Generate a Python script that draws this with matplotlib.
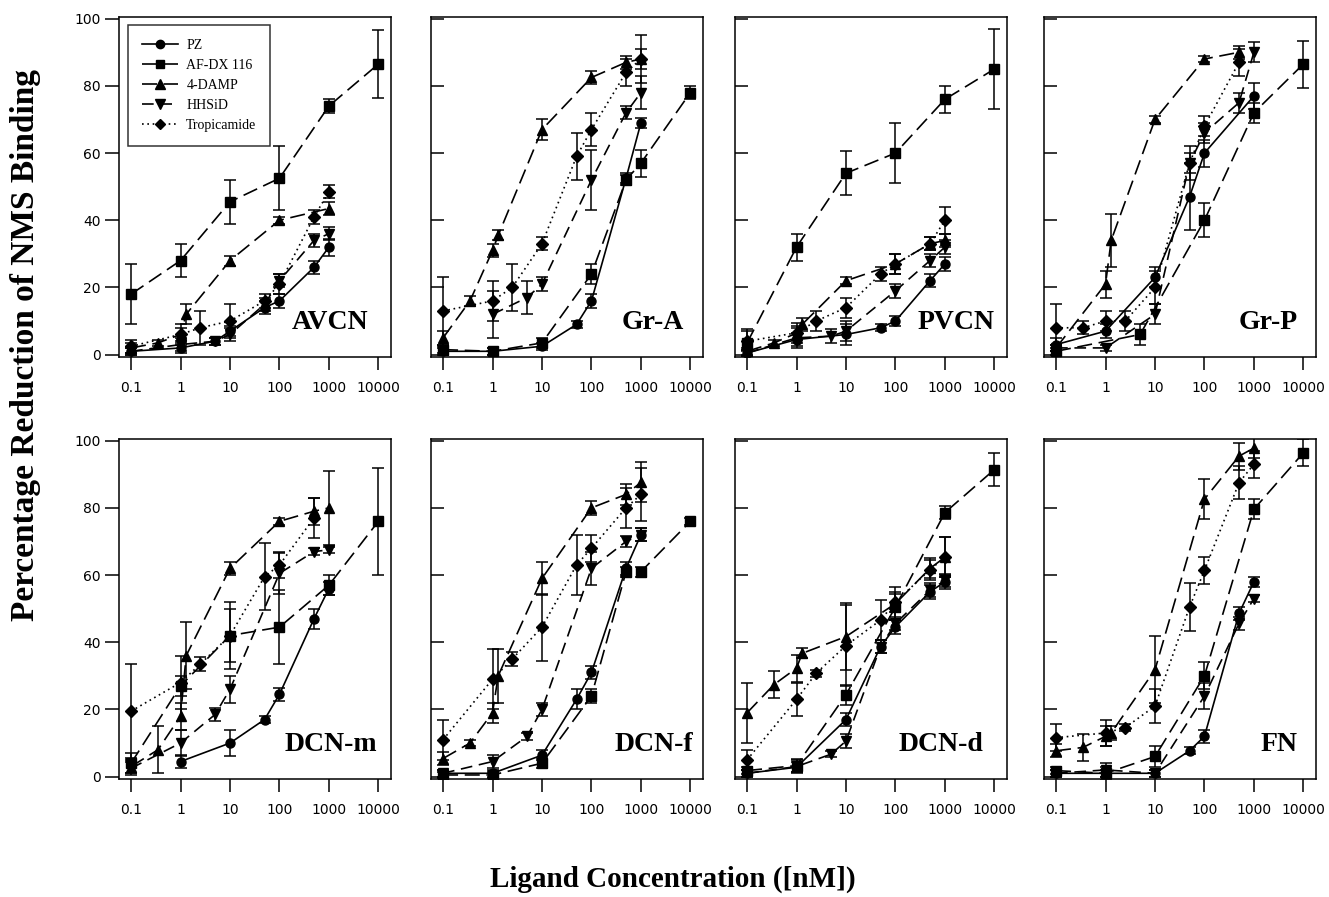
import matplotlib
matplotlib.use("Agg")
import matplotlib.pyplot as plt
from matplotlib.lines import Line2D
from matplotlib.ticker import FixedLocator, NullLocator, FixedFormatter

# ---------------- data (x = nM, y = % reduction, e = error) ----------------
panels = ["AVCN", "Gr-A", "PVCN", "Gr-P", "DCN-m", "DCN-f", "DCN-d", "FN"]
series_names = ["PZ", "AF-DX 116", "4-DAMP", "HHSiD", "Tropicamide"]
tick_vals = [0.1, 1, 10, 100, 1000, 10000]
tick_labels = ["0.1", "1", "10", "100", "1000", "10000"]
ytick_vals = [0, 20, 40, 60, 80, 100]

# AVCN
AVCN_PZ = ([0.1, 1, 5, 10, 50, 100, 500, 1000], [1, 2, 4, 7, 14, 16, 26, 32], [1, 1.5, 1, 1.5, 2, 2, 2, 2.5])
AVCN_AFDX = ([0.1, 1, 10, 100, 1000, 10000], [18, 28, 45.5, 52.5, 74, 86.5], [9, 5, 6.5, 9.5, 2, 10])
AVCN_DAMP = ([0.1, 0.35, 1, 1.3, 10, 100, 1000], [2, 3.5, 6, 12, 28, 40, 43.5], [1.5, 1, 2, 3, 1.5, 1, 2])
AVCN_HHSID = ([0.1, 1, 5, 10, 50, 100, 500, 1000], [1, 3, 4, 6, 15, 22, 34, 36], [1, 2, 1, 2, 2, 2, 2, 2])
AVCN_TROP = ([0.1, 1, 2.5, 10, 50, 100, 500, 1000], [2.5, 6, 8, 10, 16, 21, 41, 48.5], [2, 3, 5, 5, 2, 3, 2, 2])

# Gr-A
GRA_PZ = ([0.1, 1, 10, 50, 100, 500, 1000], [1, 1, 2.5, 9, 16, 52.5, 69], [1, 1, 1, 1, 2, 1.5, 1.5])
GRA_AFDX = ([0.1, 1, 10, 100, 500, 1000, 10000], [1.5, 1, 3.5, 24, 52, 57, 78], [1, 1, 1.5, 3, 1.5, 4, 2])
GRA_DAMP = ([0.1, 0.35, 1, 1.3, 10, 100, 500, 1000], [5, 16, 31, 35.5, 67, 82.5, 87, 88], [2, 1.5, 2, 1.5, 3, 2, 2, 3])
GRA_HHSID = ([1, 5, 10, 100, 500, 1000], [12, 17, 21, 52, 72, 78], [7, 5, 2, 9, 2, 5])
GRA_TROP = ([0.1, 1, 2.5, 10, 50, 100, 500, 1000], [13, 16, 20, 33, 59, 67, 84, 88], [10, 6, 7, 2, 7, 5, 4, 7])

# PVCN
PVCN_PZ = ([0.1, 1, 10, 50, 100, 500, 1000], [0.5, 4.5, 6, 8, 10, 22, 27], [1, 2, 3, 1, 1.5, 2, 2])
PVCN_AFDX = ([0.1, 1, 10, 100, 1000, 10000], [3.5, 32, 54, 60, 76, 85], [4, 4, 6.5, 9, 4, 12])
PVCN_DAMP = ([0.1, 0.35, 1, 1.3, 10, 100, 500, 1000], [1, 3.5, 6.4, 9, 22, 27, 33, 34], [1, 1, 2, 2, 1, 3, 2, 2])
PVCN_HHSID = ([0.1, 1, 5, 10, 100, 500, 1000], [0.5, 5, 5.5, 7, 19, 28, 32], [1, 3, 2, 3, 2, 2, 2])
PVCN_TROP = ([0.1, 1, 2.5, 10, 50, 100, 500, 1000], [4, 6.5, 10, 14, 24, 27, 33, 40], [3, 3, 3, 3, 2, 3, 2, 4])

# Gr-P
GRP_PZ = ([0.1, 1, 10, 50, 100, 1000], [3, 7, 23, 47, 60, 77], [2, 2, 3, 10, 4, 4])
GRP_AFDX = ([0.1, 5, 100, 1000, 10000], [1, 6, 40, 72, 86.5], [1, 3, 5, 3, 7])
GRP_DAMP = ([0.1, 1, 1.3, 10, 100, 500], [2, 21, 34, 70, 88, 90], [1, 4, 8, 1, 1, 2])
GRP_HHSID = ([0.1, 1, 10, 50, 100, 500, 1000], [2, 2, 12, 57, 66, 75, 90], [1, 1, 3, 5, 3, 3, 3])
GRP_TROP = ([0.1, 0.35, 1, 2.5, 10, 50, 100, 500], [8, 8, 10, 10, 20, 57, 68, 87], [7, 2, 3, 3, 5, 3, 3, 4])

# DCN-m
DCNM_PZ = ([1, 10, 50, 100, 500, 1000], [4.5, 10, 17, 24.5, 47, 56], [2, 4, 1, 2, 3, 2])
DCNM_AFDX = ([0.1, 1, 10, 100, 1000, 10000], [4, 27, 42, 44.5, 57, 76], [3, 3, 10, 11, 3, 16])
DCNM_DAMP = ([0.1, 0.35, 1, 1.3, 10, 100, 500, 1000], [3, 8, 18, 36, 62, 76, 79, 80], [2, 7, 4, 10, 2, 1, 4, 11])
DCNM_HHSID = ([0.1, 1, 5, 10, 100, 500, 1000], [2.5, 10, 18.5, 26, 60.5, 67, 67.5], [2, 4, 2, 4, 6, 1, 1])
DCNM_TROP = ([0.1, 1, 2.5, 10, 50, 100, 500], [19.5, 28, 33.5, 42, 59.5, 63, 77], [14, 8, 2, 8, 10, 4, 6])

# DCN-f
DCNF_PZ = ([0.1, 1, 10, 50, 100, 500, 1000], [1, 1, 6.4, 23, 31, 62, 72], [1, 1, 1.5, 3, 2, 2, 2])
DCNF_AFDX = ([0.1, 1, 10, 100, 500, 1000, 10000], [0.5, 0.5, 4, 24, 61, 61, 76], [1, 1, 1.5, 2, 1.5, 1.5, 1])
DCNF_DAMP = ([0.1, 0.35, 1, 1.3, 10, 100, 500, 1000], [5.4, 10, 19, 30, 59, 80, 84, 87.6], [2, 1, 3, 8, 5, 2, 3, 6])
DCNF_HHSID = ([0.1, 1, 5, 10, 100, 500, 1000], [1, 4.5, 12, 20, 62, 70, 72], [1, 2, 1, 2, 5, 1.5, 2])
DCNF_TROP = ([0.1, 1, 2.5, 10, 50, 100, 500, 1000], [11, 29, 35, 44.5, 63, 68, 80, 84], [6, 9, 2, 10, 9, 4, 6, 8])

# DCN-d
DCND_PZ = ([0.1, 1, 10, 50, 100, 500, 1000], [1, 2.8, 17, 38.7, 44.6, 55, 58], [1, 1.5, 2, 2, 2, 2, 2])
DCND_AFDX = ([0.1, 1, 10, 100, 1000, 10000], [1.8, 3.3, 24.4, 50.5, 78.6, 91.4], [1, 2, 3, 4, 2, 5])
DCND_DAMP = ([0.1, 0.35, 1, 1.3, 10, 100, 500, 1000], [19, 27.4, 32.3, 36.7, 41.7, 51.5, 62, 65.3], [9, 4, 4, 1.5, 10, 5, 3, 6])
DCND_HHSID = ([0.1, 1, 5, 10, 50, 100, 500, 1000], [1, 3, 6.7, 10.6, 38.7, 45.6, 55.5, 58.4], [1, 2, 1, 2, 2, 2, 2, 2])
DCND_TROP = ([0.1, 1, 2.5, 10, 50, 100, 500, 1000], [5, 23, 30.8, 39, 46.6, 52, 61.6, 65.3], [3, 5, 1, 12, 6, 3, 3, 6])

# FN
FN_PZ = ([0.1, 1, 10, 50, 100, 500, 1000], [1, 1, 1, 7.7, 12, 48.6, 58], [1, 1, 1, 1, 2, 2, 1.5])
FN_AFDX = ([0.1, 1, 10, 100, 1000, 10000], [1.8, 1, 6, 30, 79.6, 96.4], [1, 2, 3, 4, 3, 4])
FN_DAMP = ([0.1, 0.35, 1, 1.3, 10, 100, 500, 1000], [7.7, 8.7, 12, 13, 31.8, 82.6, 95.4, 97.8], [2, 4, 3, 2, 10, 6, 4, 3])
FN_HHSID = ([0.1, 1, 10, 100, 500, 1000], [1, 2, 1, 24, 45.6, 53], [1, 2, 1, 4, 2, 1])
FN_TROP = ([0.1, 1, 2.5, 10, 50, 100, 500, 1000], [11.6, 13, 14.6, 21, 50.5, 61.4, 87.5, 93], [4, 4, 1, 5, 7, 4, 5, 4])

panel_data = [
    [AVCN_PZ, AVCN_AFDX, AVCN_DAMP, AVCN_HHSID, AVCN_TROP],
    [GRA_PZ, GRA_AFDX, GRA_DAMP, GRA_HHSID, GRA_TROP],
    [PVCN_PZ, PVCN_AFDX, PVCN_DAMP, PVCN_HHSID, PVCN_TROP],
    [GRP_PZ, GRP_AFDX, GRP_DAMP, GRP_HHSID, GRP_TROP],
    [DCNM_PZ, DCNM_AFDX, DCNM_DAMP, DCNM_HHSID, DCNM_TROP],
    [DCNF_PZ, DCNF_AFDX, DCNF_DAMP, DCNF_HHSID, DCNF_TROP],
    [DCND_PZ, DCND_AFDX, DCND_DAMP, DCND_HHSID, DCND_TROP],
    [FN_PZ, FN_AFDX, FN_DAMP, FN_HHSID, FN_TROP],
]

# ---------------- styles ----------------
markers = ["o", "s", "^", "v", "D"]
msizes = [6.5, 6.5, 7, 7, 6]
linestyles = ["-", (0, (9, 4)), (0, (9, 4)), (0, (7, 4)), (0, (1, 2.2))]
SERIF = ["Liberation Serif", "DejaVu Serif"]

W, H = 1329, 897
fig = plt.figure(figsize=(W / 100, H / 100), dpi=100)
fig.patch.set_facecolor("white")

lefts = [119, 431, 735, 1044]
tops = [17, 439]
aw, ah = 272, 340
label_right = [23, 19, 12, 18, 14, 10, 24, 18]

for i, name in enumerate(panels):
    r, c = divmod(i, 4)
    ax = fig.add_axes([lefts[c] / W, 1 - (tops[r] + ah) / H, aw / W, ah / H])
    ax.set_xscale("log")
    for k, (x, y, e) in enumerate(panel_data[i]):
        ax.errorbar(x, y, yerr=e, color="black", marker=markers[k], ms=msizes[k],
                    linestyle=linestyles[k], lw=1.2, elinewidth=1.1, capsize=4.5,
                    capthick=1.1, zorder=3)
    ax.set_xlim(0.057, 18000)
    ax.set_ylim(-0.7, 100.5)
    ax.xaxis.set_major_locator(FixedLocator(tick_vals))
    ax.xaxis.set_major_formatter(FixedFormatter(tick_labels))
    ax.xaxis.set_minor_locator(NullLocator())
    ax.set_yticks(ytick_vals)
    ax.tick_params(axis="x", direction="out", length=9, width=1.1, pad=8,
                   labelsize=10, labelfontfamily="DejaVu Sans")
    if c == 0:
        ax.tick_params(axis="y", direction="out", length=10, width=1.1, pad=3,
                       labelsize=10, labelfontfamily="DejaVu Sans")
    else:
        ax.tick_params(axis="y", direction="in", length=9, width=1.1, labelleft=False)
    for s in ax.spines.values():
        s.set_linewidth(1.1)
    ax.text(1 - label_right[i] / aw, 28 / ah, name, transform=ax.transAxes, ha="right",
            va="baseline", fontsize=20, fontweight="bold", family=SERIF)
    if i == 0:
        handles = [Line2D([], [], color="black", marker=markers[k], ms=msizes[k] - 0.5,
                          linestyle=linestyles[k], lw=1.2) for k in range(5)]
        leg = ax.legend(handles, series_names, loc="upper left",
                        bbox_to_anchor=(0.033, 0.976), frameon=True, fancybox=False,
                        edgecolor="black", prop={"family": SERIF, "size": 10},
                        handlelength=2.6, labelspacing=0.5, borderpad=1.0,
                        handletextpad=0.6, borderaxespad=0)
        leg.get_frame().set_linewidth(1.1)

fig.text(26 / W, 1 - 345 / H, "Percentage Reduction of NMS Binding", rotation=90,
         ha="center", va="center", fontsize=24, fontweight="bold", family=SERIF)
fig.text(673 / W, 1 - 887 / H, "Ligand Concentration ([nM])", ha="center",
         va="baseline", fontsize=21, fontweight="bold", family=SERIF)

fig.savefig("out.png", dpi=100)
